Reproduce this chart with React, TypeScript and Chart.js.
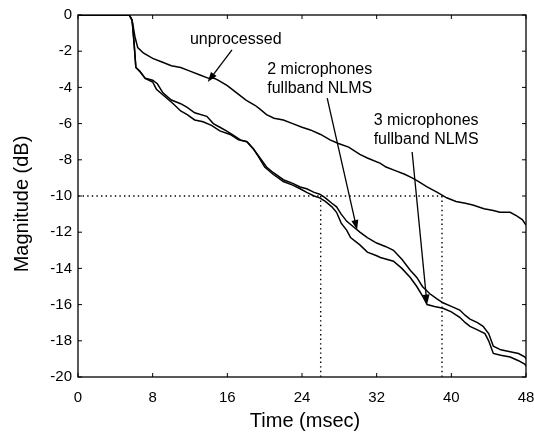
import React, { useEffect, useRef } from "react";
import { Chart, registerables } from "chart.js";

Chart.register(...registerables);

// ---- data (time in msec, magnitude in dB) ----
const unprocessedT = [0, 5.5, 5.8, 6.1, 6.4, 7.0, 8.0, 9.0, 10.0, 11.0, 12.0, 13.0, 14.0, 14.6, 15.0, 16.0, 17.0, 18.0, 19.0, 19.5, 20.2, 21.0, 22.0, 23.0, 24.0, 24.9, 26.0, 27.0, 27.9, 29.0, 30.2, 31.0, 32.4, 33.0, 34.0, 35.0, 35.8, 36.5, 37.4, 38.5, 39.5, 40.5, 41.5, 42.3, 43.5, 44.5, 45.2, 46.3, 47.0, 47.6, 48.0];
const unprocessedM = [0, 0, -0.3, -1.2, -1.8, -2.1, -2.4, -2.6, -2.8, -2.9, -3.1, -3.3, -3.5, -3.5, -3.6, -3.9, -4.3, -4.7, -5.0, -5.2, -5.5, -5.7, -5.8, -6.0, -6.2, -6.35, -6.6, -6.9, -7.1, -7.3, -7.7, -7.9, -8.2, -8.4, -8.6, -8.8, -9.0, -9.2, -9.5, -9.8, -10.1, -10.3, -10.4, -10.5, -10.7, -10.8, -10.9, -10.9, -11.1, -11.3, -11.6];

const mic2T = [0, 5.5, 5.8, 6.0, 6.2, 6.6, 7.2, 8.0, 8.5, 9.1, 10.0, 11.0, 11.7, 12.5, 13.8, 14.5, 15.2, 15.9, 16.5, 17.4, 18.1, 18.8, 19.5, 20.2, 20.9, 22.0, 23.0, 23.8, 24.5, 25.3, 25.9, 26.5, 27.2, 27.7, 28.2, 28.8, 29.5, 30.2, 31.0, 32.0, 33.0, 33.8, 34.7, 35.6, 36.3, 36.9, 37.7, 38.5, 39.1, 40.0, 40.9, 41.5, 42.0, 42.8, 43.4, 44.0, 44.5, 45.3, 46.3, 47.2, 47.9, 48.0];
const mic2M = [0, 0, -0.3, -1.5, -2.9, -3.1, -3.5, -3.6, -3.8, -4.3, -4.7, -4.9, -5.1, -5.4, -5.6, -6.0, -6.2, -6.4, -6.6, -6.9, -7.0, -7.4, -7.9, -8.4, -8.7, -9.1, -9.3, -9.5, -9.6, -9.8, -9.9, -10.1, -10.4, -10.6, -11.0, -11.4, -11.7, -12.0, -12.3, -12.6, -12.8, -13.0, -13.5, -14.1, -14.5, -15.0, -15.4, -15.7, -15.9, -16.1, -16.3, -16.6, -16.8, -17.0, -17.2, -17.6, -18.3, -18.5, -18.6, -18.7, -18.9, -19.0];

const mic3T = [0, 5.5, 5.8, 6.0, 6.2, 6.6, 7.2, 8.0, 8.4, 9.3, 10.2, 11.0, 11.7, 12.5, 13.4, 14.3, 15.2, 16.3, 17.2, 18.1, 18.8, 19.3, 20.0, 20.9, 22.0, 23.0, 23.8, 24.5, 25.3, 25.9, 26.5, 27.2, 27.7, 28.2, 28.8, 29.2, 30.2, 31.0, 32.0, 32.4, 33.8, 34.7, 35.6, 36.3, 37.0, 37.4, 38.2, 39.1, 40.0, 40.9, 41.5, 42.0, 42.8, 43.6, 44.0, 44.5, 45.3, 46.3, 47.2, 47.9, 48.0];
const mic3M = [0, 0, -0.3, -1.5, -2.9, -3.1, -3.5, -3.7, -4.1, -4.5, -4.9, -5.3, -5.5, -5.8, -5.9, -6.1, -6.4, -6.6, -6.9, -7.0, -7.4, -7.8, -8.4, -8.8, -9.2, -9.4, -9.6, -9.8, -10.0, -10.1, -10.3, -10.6, -10.9, -11.5, -11.9, -12.3, -12.7, -13.1, -13.3, -13.4, -13.6, -14.0, -14.5, -15.0, -15.6, -16.0, -16.1, -16.2, -16.4, -16.7, -17.0, -17.2, -17.4, -17.6, -18.0, -18.7, -18.8, -18.9, -19.1, -19.3, -19.4];

// reference guides (dotted)
const refLevel = -10;
const refTimes = [26, 39];

// axis ticks
const xTicks = [0, 8, 16, 24, 32, 40, 48];
const yTicks = [0, -2, -4, -6, -8, -10, -12, -14, -16, -18, -20];
const xTitle = "Time (msec)";
const yTitle = "Magnitude (dB)";

// annotations (data coordinates)
const labelTexts = [["unprocessed"], ["2 microphones", "fullband NLMS"], ["3 microphones", "fullband NLMS"]];
const labelX = [16.9, 25.9, 37.3];
const labelY = [-1.38, -3.04, -5.85];
const arrowFrom = [[16.5, -1.93], [26.7, -4.59], [35.8, -7.57]];
const arrowTo = [[13.9, -3.7], [29.9, -11.88], [37.4, -16.0]];

const toPts = (t: number[], m: number[]) => t.map((x, i) => ({ x, y: m[i] }));

export default function App() {
  const ref = useRef<HTMLCanvasElement | null>(null);
  useEffect(() => {
    if (!ref.current) return;
    const font = "'Liberation Sans', Arial, Helvetica, sans-serif";

    const boxPlugin = {
      id: "box",
      afterDatasetsDraw(chart: any) {
        const { ctx, chartArea: a, scales } = chart;
        const xs = scales.x, ys = scales.y;
        ctx.save();
        ctx.strokeStyle = "#000";
        ctx.lineWidth = 1.3;
        ctx.strokeRect(a.left, a.top, a.right - a.left, a.bottom - a.top);
        const tl = 4;
        ctx.lineWidth = 1;
        ctx.beginPath();
        xTicks.forEach((v) => {
          const px = xs.getPixelForValue(v);
          ctx.moveTo(px, a.bottom); ctx.lineTo(px, a.bottom - tl);
          ctx.moveTo(px, a.top); ctx.lineTo(px, a.top + tl);
        });
        yTicks.forEach((v) => {
          const py = ys.getPixelForValue(v);
          ctx.moveTo(a.left, py); ctx.lineTo(a.left + tl, py);
          ctx.moveTo(a.right, py); ctx.lineTo(a.right - tl, py);
        });
        ctx.stroke();

        // arrows
        ctx.lineWidth = 1.3;
        arrowFrom.forEach((f, i) => {
          const x0 = xs.getPixelForValue(f[0]), y0 = ys.getPixelForValue(f[1]);
          const x1 = xs.getPixelForValue(arrowTo[i][0]), y1 = ys.getPixelForValue(arrowTo[i][1]);
          const ang = Math.atan2(y1 - y0, x1 - x0);
          const hl = 10, hw = 3.5;
          ctx.beginPath();
          ctx.moveTo(x0, y0);
          ctx.lineTo(x1 - Math.cos(ang) * hl * 0.8, y1 - Math.sin(ang) * hl * 0.8);
          ctx.stroke();
          ctx.beginPath();
          ctx.moveTo(x1, y1);
          ctx.lineTo(x1 - Math.cos(ang) * hl - Math.sin(ang) * hw, y1 - Math.sin(ang) * hl + Math.cos(ang) * hw);
          ctx.lineTo(x1 - Math.cos(ang) * hl + Math.sin(ang) * hw, y1 - Math.sin(ang) * hl - Math.cos(ang) * hw);
          ctx.closePath();
          ctx.fillStyle = "#000";
          ctx.fill();
        });

        // labels
        ctx.fillStyle = "#000";
        ctx.font = `16px ${font}`;
        ctx.textAlign = "center";
        ctx.textBaseline = "middle";
        labelTexts.forEach((lines, i) => {
          const cx = xs.getPixelForValue(labelX[i]);
          const cy = ys.getPixelForValue(labelY[i]);
          lines.forEach((s, j) => ctx.fillText(s, cx, cy + j * 19));
        });

        // axis titles
        ctx.font = `20px ${font}`;
        ctx.fillText(xTitle, (a.left + a.right) / 2 + 3, 421);
        ctx.translate(22, (a.top + a.bottom) / 2 + 8);
        ctx.rotate(-Math.PI / 2);
        ctx.fillText(yTitle, 0, 0);
        ctx.restore();
      },
    };

    const dotted = { borderColor: "#000", borderWidth: 1.4, borderDash: [1.4, 3.2], pointRadius: 0, fill: false };
    const solid = { borderColor: "#000", borderWidth: 1.5, pointRadius: 0, fill: false, tension: 0 };

    const chart = new Chart(ref.current, {
      type: "line",
      data: {
        datasets: [
          { label: "unprocessed", data: toPts(unprocessedT, unprocessedM), ...solid },
          { label: "2 microphones fullband NLMS", data: toPts(mic2T, mic2M), ...solid },
          { label: "3 microphones fullband NLMS", data: toPts(mic3T, mic3M), ...solid },
          { label: "level", data: [{ x: 0, y: refLevel }, { x: refTimes[1], y: refLevel }], ...dotted },
          { label: "t1", data: [{ x: refTimes[0], y: refLevel }, { x: refTimes[0], y: -20 }], ...dotted },
          { label: "t2", data: [{ x: refTimes[1], y: refLevel }, { x: refTimes[1], y: -20 }], ...dotted },
        ],
      },
      options: {
        animation: false,
        responsive: false,
        maintainAspectRatio: false,
        layout: { padding: { left: 0, right: 8, top: 15, bottom: 0 } },
        plugins: { legend: { display: false }, tooltip: { enabled: false } },
        scales: {
          x: {
            type: "linear",
            min: 0,
            max: 48,
            afterBuildTicks: (s: any) => { s.ticks = xTicks.map((v) => ({ value: v })); },
            afterFit: (s: any) => { s.height = 64; s.paddingLeft = 0; s.paddingRight = 0; },
            grid: { display: false, drawTicks: false },
            border: { display: false },
            ticks: { color: "#000", font: { size: 15, family: font }, padding: 12, maxRotation: 0 },
          },
          y: {
            type: "linear",
            min: -20,
            max: 0,
            afterBuildTicks: (s: any) => { s.ticks = yTicks.map((v) => ({ value: v })); },
            afterFit: (s: any) => { s.width = 78; s.paddingTop = 0; s.paddingBottom = 0; },
            grid: { display: false, drawTicks: false },
            border: { display: false },
            ticks: { color: "#000", font: { size: 15, family: font }, padding: 6 },
          },
        },
      },
      plugins: [boxPlugin],
    });
    return () => chart.destroy();
  }, []);

  return (
    <div style={{ position: "fixed", left: 0, top: 0, width: 534, height: 441, background: "#fff" }}>
      <canvas ref={ref} width={534} height={441} style={{ width: 534, height: 441 }} />
    </div>
  );
}
